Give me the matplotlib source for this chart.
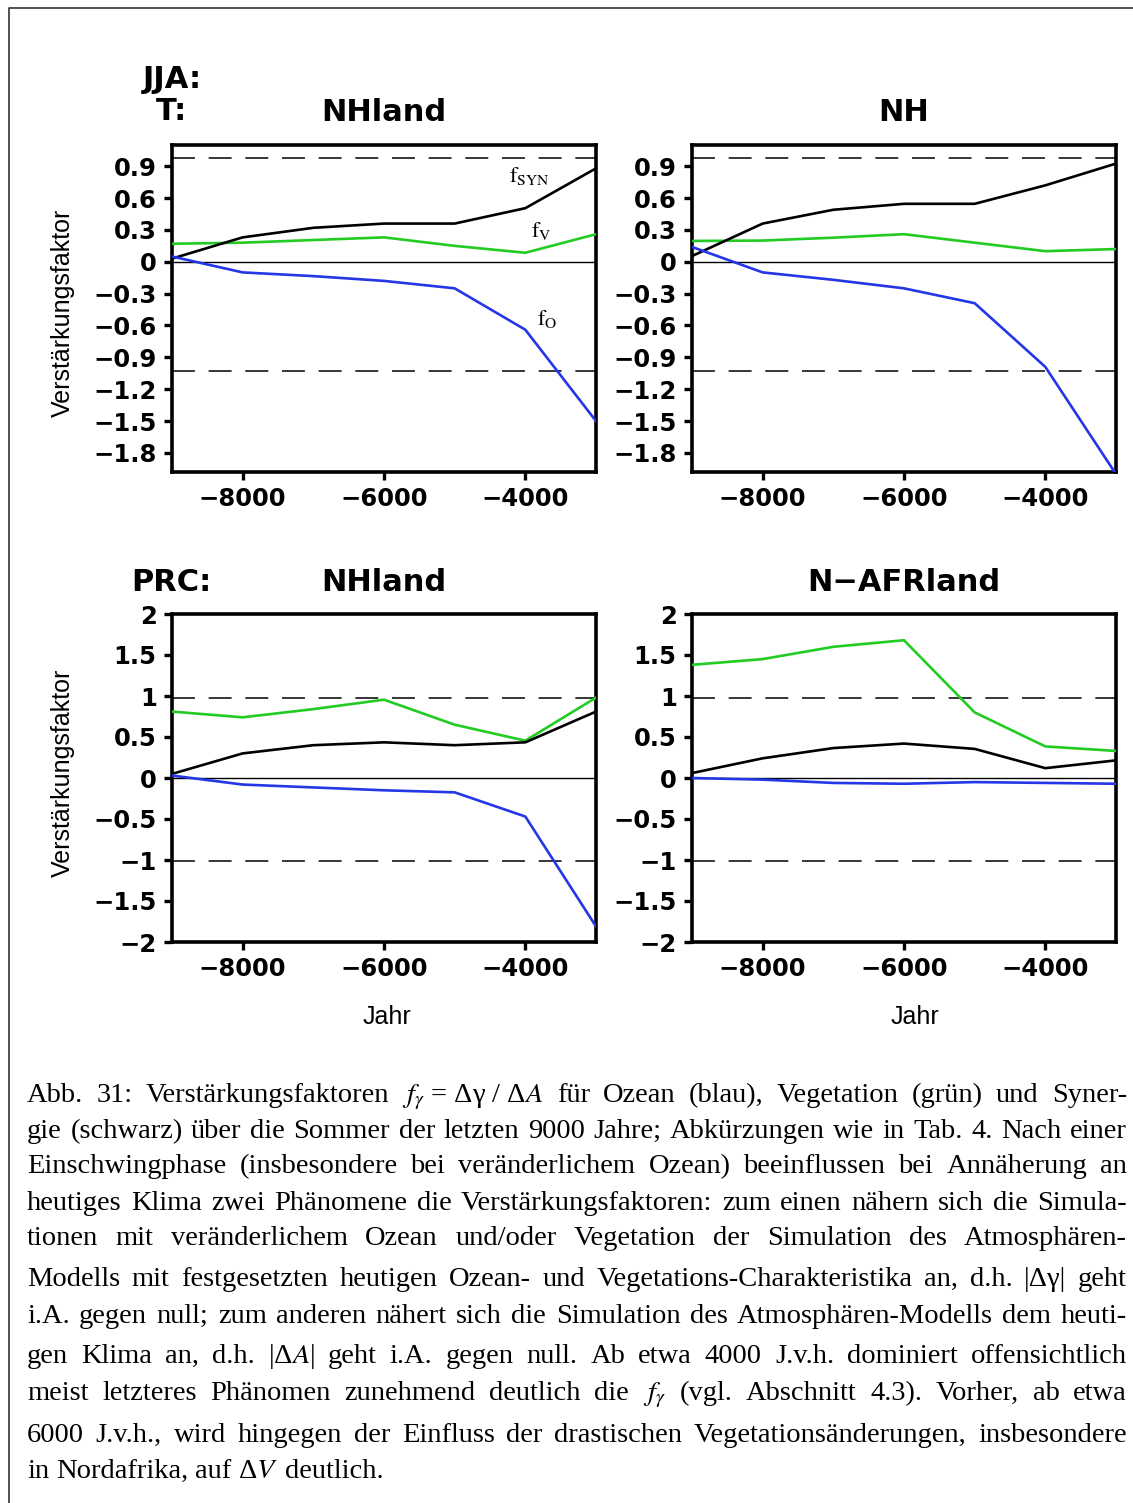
import matplotlib
matplotlib.use("Agg")
import matplotlib.pyplot as plt
from matplotlib.lines import Line2D

plt.rcParams['mathtext.fontset'] = 'stix'

W, H = 1133, 1503

jahre = [-9000, -8000, -7000, -6000, -5000, -4000, -3000]

# JJA T, NHland
t_nhland_syn = [0.03, 0.23, 0.32, 0.36, 0.36, 0.505, 0.88]
t_nhland_veg = [0.17, 0.18, 0.205, 0.23, 0.15, 0.085, 0.26]
t_nhland_ozean = [0.05, -0.10, -0.135, -0.18, -0.25, -0.64, -1.50]
# JJA T, NH
t_nh_syn = [0.054, 0.36, 0.49, 0.546, 0.546, 0.72, 0.925]
t_nh_veg = [0.196, 0.20, 0.227, 0.26, 0.18, 0.10, 0.12]
t_nh_ozean = [0.14, -0.10, -0.17, -0.25, -0.39, -0.99, -2.0]
# JJA PRC, NHland
p_nhland_syn = [0.05, 0.30, 0.40, 0.435, 0.40, 0.435, 0.81]
p_nhland_veg = [0.81, 0.74, 0.84, 0.955, 0.65, 0.455, 0.98]
p_nhland_ozean = [0.03, -0.08, -0.115, -0.15, -0.175, -0.47, -1.81]
# JJA PRC, N-AFRland
p_afr_syn = [0.06, 0.24, 0.365, 0.42, 0.355, 0.12, 0.215]
p_afr_veg = [1.38, 1.45, 1.60, 1.68, 0.80, 0.385, 0.33]
p_afr_ozean = [0.0, -0.02, -0.06, -0.07, -0.05, -0.06, -0.07]

t_yticks = [0.9, 0.6, 0.3, 0, -0.3, -0.6, -0.9, -1.2, -1.5, -1.8]
t_ylabels = ['0.9', '0.6', '0.3', '0', '−0.3', '−0.6', '−0.9', '−1.2', '−1.5', '−1.8']
p_yticks = [2, 1.5, 1, 0.5, 0, -0.5, -1, -1.5, -2]
p_ylabels = ['2', '1.5', '1', '0.5', '0', '−0.5', '−1', '−1.5', '−2']
x_ticks = [-8000, -6000, -4000]
x_labels = ['−8000', '−6000', '−4000']

t_dash = [0.98, -1.03]
p_dash = [0.97, -1.01]

c_syn, c_veg, c_ozean = 'black', '#22cc22', '#2436e6'

caption_lines = [
    r"Abb. 31: Verstärkungsfaktoren $f_\gamma$~=~Δγ~/~Δ$A$ für Ozean (blau), Vegetation (grün) und Syner-",
    "gie (schwarz) über die Sommer der letzten 9000 Jahre; Abkürzungen wie in Tab. 4. Nach einer",
    "Einschwingphase (insbesondere bei veränderlichem Ozean) beeinflussen bei Annäherung an",
    "heutiges Klima zwei Phänomene die Verstärkungsfaktoren: zum einen nähern sich die Simula-",
    "tionen mit veränderlichem Ozean und/oder Vegetation der Simulation des Atmosphären-",
    "Modells mit festgesetzten heutigen Ozean- und Vegetations-Charakteristika an, d.h. |Δγ| geht",
    "i.A. gegen null; zum anderen nähert sich die Simulation des Atmosphären-Modells dem heuti-",
    r"gen Klima an, d.h. |Δ$A$| geht i.A. gegen null. Ab etwa 4000 J.v.h. dominiert offensichtlich",
    r"meist letzteres Phänomen zunehmend deutlich die $f_\gamma$ (vgl. Abschnitt 4.3). Vorher, ab etwa",
    "6000 J.v.h., wird hingegen der Einfluss der drastischen Vegetationsänderungen, insbesondere",
    r"in Nordafrika, auf Δ$V$ deutlich.",
]
caption_baselines = [1102, 1138, 1173, 1210, 1245, 1286, 1323, 1363, 1400, 1442, 1478]

fig = plt.figure(figsize=(W / 100, H / 100), dpi=100)


def panel(left_px, top_px, bottom_px, syn, veg, ozean, yticks, ylabels, ylim, dash):
    rect = [left_px / W, 1 - bottom_px / H, 424 / W, (bottom_px - top_px) / H]
    ax = fig.add_axes(rect)
    for d in dash:
        ax.axhline(d, color='black', lw=1.1, dashes=(15, 9), zorder=1)
    ax.axhline(0, color='black', lw=1.0, zorder=1)
    ax.plot(jahre, veg, color=c_veg, lw=1.9, zorder=3)
    ax.plot(jahre, syn, color=c_syn, lw=1.9, zorder=3)
    ax.plot(jahre, ozean, color=c_ozean, lw=1.9, zorder=3)
    ax.set_xlim(-9000, -3000)
    ax.set_ylim(ylim)
    ax.set_xticks(x_ticks)
    ax.set_xticklabels(x_labels, fontweight='bold', fontsize=17.5, family='DejaVu Sans')
    ax.set_yticks(yticks)
    ax.set_yticklabels(ylabels, fontweight='bold', fontsize=17.5, family='DejaVu Sans')
    ax.tick_params(direction='out', length=6, width=2.4, pad=5)
    for s in ax.spines.values():
        s.set_linewidth(2.6)
    return ax


ax1 = panel(172, 145, 472, t_nhland_syn, t_nhland_veg, t_nhland_ozean,
            t_yticks, t_ylabels, (-1.98, 1.10), t_dash)
ax2 = panel(692, 145, 472, t_nh_syn, t_nh_veg, t_nh_ozean,
            t_yticks, t_ylabels, (-1.98, 1.10), t_dash)
ax3 = panel(172, 614, 942, p_nhland_syn, p_nhland_veg, p_nhland_ozean,
            p_yticks, p_ylabels, (-2, 2), p_dash)
ax4 = panel(692, 614, 942, p_afr_syn, p_afr_veg, p_afr_ozean,
            p_yticks, p_ylabels, (-2, 2), p_dash)

# curve labels in the first panel
ax1.text(-4231, 0.754, r'$\mathrm{f}_{\mathrm{SYN}}$', fontsize=16, va='baseline')
ax1.text(-3920, 0.236, r'$\mathrm{f}_{\mathrm{V}}$', fontsize=16, va='baseline')
ax1.text(-3835, -0.594, r'$\mathrm{f}_{\mathrm{O}}$', fontsize=16, va='baseline')

# headings
head = dict(fontsize=22, fontweight='bold', family='DejaVu Sans', ha='center', va='baseline')
fig.text(172 / W, 1 - 88 / H, 'JJA:', **head)
fig.text(172 / W, 1 - 120 / H, 'T:', **head)
fig.text(384 / W, 1 - 121 / H, 'NHland', **head)
fig.text(904 / W, 1 - 121 / H, 'NH', **head)
fig.text(171 / W, 1 - 591 / H, 'PRC:', **head)
fig.text(384 / W, 1 - 591 / H, 'NHland', **head)
fig.text(904 / W, 1 - 591 / H, 'N−AFRland', **head)

lab = dict(fontsize=18, family='Liberation Sans')
fig.text(63 / W, 1 - 313 / H, 'Verstärkungsfaktor', rotation=90, ha='center', va='center', **lab)
fig.text(63 / W, 1 - 773 / H, 'Verstärkungsfaktor', rotation=90, ha='center', va='center', **lab)
fig.text(387 / W, 1 - 1024 / H, 'Jahr', ha='center', va='baseline', **lab)
fig.text(915 / W, 1 - 1024 / H, 'Jahr', ha='center', va='baseline', **lab)

# frame around the figure (left and top edge)
fig.add_artist(Line2D([9 / W, 9 / W, 1], [0, 1 - 8 / H, 1 - 8 / H],
                      transform=fig.transFigure, color='#333333', lw=1.2))

# justified caption
renderer = fig.canvas.get_renderer()
x_left, x_right = 27, 1127
for i, (line, yb) in enumerate(zip(caption_lines, caption_baselines)):
    words = [w.replace('~', ' ') for w in line.split(' ')]
    texts = [fig.text(0, 1 - yb / H, w, fontsize=20.5, family='Liberation Serif',
                      ha='left', va='baseline') for w in words]
    widths = [t.get_window_extent(renderer).width for t in texts]
    if i < len(caption_lines) - 1:
        gap = (x_right - x_left - sum(widths)) / (len(words) - 1)
    else:
        gap = 7
    x = x_left
    for t, w in zip(texts, widths):
        t.set_x(x / W)
        x += w + gap

fig.savefig('out.png', dpi=100)
